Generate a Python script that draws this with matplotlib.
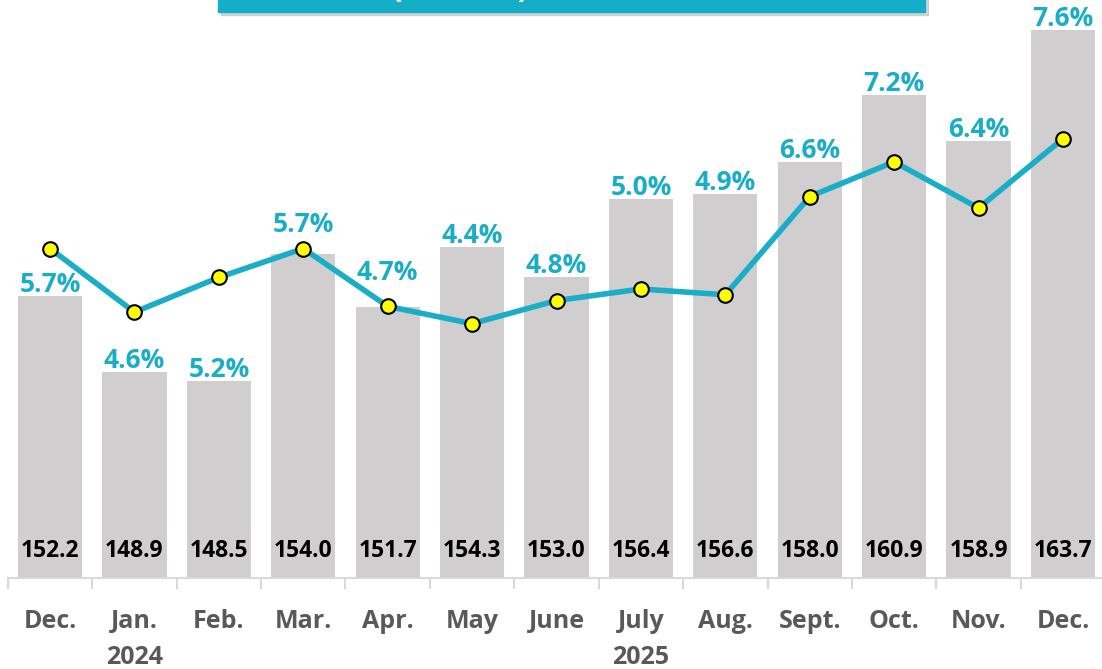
import numpy as np
import matplotlib.pyplot as plt
from matplotlib.patches import Rectangle

plt.rcParams['font.family'] = ['Open Sans', 'DejaVu Sans']

months = ['Dec.', 'Jan.', 'Feb.', 'Mar.', 'Apr.', 'May', 'June', 'July',
          'Aug.', 'Sept.', 'Oct.', 'Nov.', 'Dec.']
years = {1: '2024', 7: '2025'}
index_vals = [152.2, 148.9, 148.5, 154.0, 151.7, 154.3, 153.0, 156.4,
              156.6, 158.0, 160.9, 158.9, 163.7]
pct_vals = [5.7, 4.6, 5.2, 5.7, 4.7, 4.4, 4.8, 5.0, 4.9, 6.6, 7.2, 6.4, 7.6]

bar_col = '#D0CECE'
teal = '#1AADC8'
grey_txt = '#595959'
axis_col = '#D9D9D9'

# labels lifted clear of the line (points)
lift = {3: 13, 4: 16.5}

W, H = 1102, 669
fig = plt.figure(figsize=(W / 100, H / 100), dpi=100)
ax = fig.add_axes([7.8 / W, 91 / H, 1097.4 / W, 578 / H])
x = np.arange(len(months))

ax.bar(x, index_vals, width=0.76, color=bar_col, zorder=2)
ax.set_ylim(140, 165)
ax.set_xlim(-0.5, len(months) - 0.5)

for s in ['left', 'right', 'top']:
    ax.spines[s].set_visible(False)
ax.spines['bottom'].set_color(axis_col)
ax.spines['bottom'].set_linewidth(1.5)
ax.set_yticks([])
ax.set_xticks(np.arange(len(months) + 1) - 0.5)
ax.set_xticklabels([])
ax.tick_params(axis='x', length=8, width=1.5, color=axis_col)

for i, (m, v, p) in enumerate(zip(months, index_vals, pct_vals)):
    ax.annotate(m, xy=(i, 0), xycoords=('data', 'axes fraction'),
                xytext=(0, -31), textcoords='offset points',
                ha='center', va='center', fontsize=18, fontweight='bold',
                color=grey_txt)
    if i in years:
        ax.annotate(years[i], xy=(i, 0), xycoords=('data', 'axes fraction'),
                    xytext=(0, -57), textcoords='offset points',
                    ha='center', va='center', fontsize=18, fontweight='bold',
                    color=grey_txt)
    ax.annotate(f'{v:.1f}', xy=(i, 0), xycoords=('data', 'axes fraction'),
                xytext=(0, 19.5), textcoords='offset points',
                ha='center', va='center', fontsize=16.5, fontweight='bold',
                color='black', zorder=5)
    ax.annotate(f'{p:.1f}%', xy=(i, v), xytext=(0, 3 + lift.get(i, 0)),
                textcoords='offset points', ha='center', va='baseline',
                fontsize=19, fontweight='bold', color=teal, zorder=5)

ax2 = ax.twinx()
ax2.set_ylim(0, 10)
ax2.axis('off')
ax2.plot(x, pct_vals, color=teal, linewidth=4, marker='o', markersize=10.5,
         markerfacecolor='#FFFF00', markeredgecolor='black',
         markeredgewidth=1.5, zorder=4)

# title box cut off at the top edge
fig.patches.append(Rectangle((221 / W, (H - 15) / H), 707 / W, 15 / H,
                             transform=fig.transFigure, color='#B0B0B0',
                             alpha=0.5, zorder=0))
fig.patches.append(Rectangle((218 / W, (H - 12) / H), 707 / W, 12 / H,
                             transform=fig.transFigure, color='#15AEC8',
                             zorder=1))
fig.text(392 / W, (H + 3) / H, '(', color='white', fontsize=22,
         fontweight='bold', ha='left', va='baseline')
fig.text(527 / W, (H + 3) / H, ')', color='white', fontsize=22,
         fontweight='bold', ha='right', va='baseline')

fig.savefig('out.png', dpi=100)
